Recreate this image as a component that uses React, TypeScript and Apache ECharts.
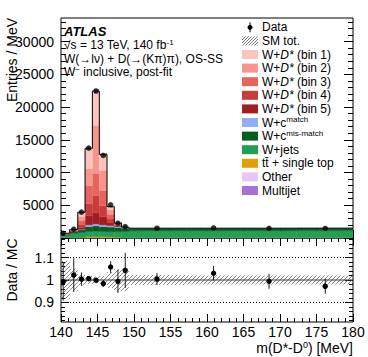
import React, { useEffect, useRef } from "react";
import * as echarts from "echarts";

const FONT = "'Liberation Sans', Arial, Helvetica, sans-serif";

// ---------------- data ----------------
const binEdges = [140, 141.2, 142.3, 143.3, 144.3, 145.25, 146.3, 147.3, 148.3, 149.3, 157, 164.75, 172.3, 180];
const dataX = [140.3, 141.75, 142.8, 143.8, 144.8, 145.8, 146.8, 147.8, 148.8, 153.15, 160.9, 168.5, 176.2];
const dataY = [720, 1340, 3950, 13740, 22450, 12610, 5075, 2260, 1740, 1490, 1530, 1476, 1453];
const ratioY = [0.993, 1.022, 1.004, 1.006, 0.999, 0.984, 1.058, 0.994, 1.043, 1.004, 1.03, 0.994, 0.972];
const ratioErr = [0.085, 0.075, 0.03, 0.01, 0.007, 0.015, 0.026, 0.052, 0.078, 0.026, 0.033, 0.033, 0.033];
const mcRelUnc = [0.085, 0.05, 0.025, 0.018, 0.015, 0.018, 0.035, 0.05, 0.05, 0.022, 0.02, 0.02, 0.02];

const multijet = [10, 15, 15, 30, 30, 30, 25, 25, 20, 20, 20, 20, 20];
const other = [10, 15, 20, 30, 30, 30, 25, 25, 20, 20, 20, 20, 20];
const ttbar = [20, 30, 60, 140, 150, 140, 120, 80, 50, 30, 30, 30, 30];
const wJets = [380, 650, 750, 800, 850, 800, 800, 850, 900, 1050, 1050, 1050, 1060];
const wcMismatch = [150, 250, 400, 730, 800, 730, 700, 620, 500, 350, 350, 350, 350];
const wcMatch = [10, 30, 80, 270, 290, 270, 230, 150, 60, 15, 15, 15, 15];
const wDstar5 = [20, 40, 300, 1380, 1690, 1230, 400, 84, 18, 0, 0, 0, 0];
const wDstar4 = [25, 55, 450, 1850, 2610, 1690, 600, 110, 25, 0, 0, 0, 0];
const wDstar3 = [30, 70, 600, 2770, 3380, 2310, 700, 130, 30, 0, 0, 0, 0];
const wDstar2 = [35, 75, 600, 2600, 7380, 3080, 700, 120, 25, 0, 0, 0, 0];
const wDstar1 = [35, 80, 660, 3100, 5230, 2460, 500, 80, 20, 0, 0, 0, 0];

const mainYLabels = [5000, 10000, 15000, 20000, 25000, 30000];
const ratioYLabels = [0.9, 1, 1.1];

const C = {
  d1: "#fdc4bf",
  d2: "#f9968c",
  d3: "#e4655f",
  d4: "#c93c3c",
  d5: "#a01e22",
  wcMatch: "#93adf2",
  wcMis: "#075c1f",
  wJets: "#1fa055",
  tt: "#e3a003",
  other: "#e9c5f8",
  mj: "#a872d4",
};

// ---------------- helpers ----------------
function hatchLines(x0: number, y0: number, x1: number, y1: number, spacing: number, stroke: string, lw = 0.7) {
  const children: any[] = [];
  const start = Math.ceil((x0 + y0) / spacing) * spacing;
  for (let c = start; c <= x1 + y1; c += spacing) {
    const xs = Math.max(x0, c - y1);
    const xe = Math.min(x1, c - y0);
    if (xe > xs) {
      children.push({
        type: "line",
        shape: { x1: xs, y1: c - xs, x2: xe, y2: c - xe },
        style: { stroke, lineWidth: lw },
      });
    }
  }
  return children;
}

const rectItem = (color: string) => (params: any, api: any) => {
  const a = api.coord([api.value(0), api.value(3)]);
  const b = api.coord([api.value(1), api.value(2)]);
  return {
    type: "rect",
    shape: { x: a[0], y: a[1], width: b[0] - a[0], height: b[1] - a[1] },
    style: { fill: color, stroke: color, lineWidth: 0.4 },
  };
};

const hatchItem = (params: any, api: any) => {
  const a = api.coord([api.value(0), api.value(3)]);
  const b = api.coord([api.value(1), api.value(2)]);
  return { type: "group", children: hatchLines(a[0], a[1], b[0], b[1], 4, "#555", 0.7) };
};

const errItem = (params: any, api: any) => {
  const x = api.value(0);
  const y = api.value(1);
  const e = api.value(2);
  const c = api.coord([x, y]);
  const t = api.coord([x, y + e]);
  const b = api.coord([x, y - e]);
  return {
    type: "group",
    children: [
      { type: "line", shape: { x1: c[0], y1: t[1], x2: c[0], y2: b[1] }, style: { stroke: "#222", lineWidth: 1 } },
      { type: "circle", shape: { cx: c[0], cy: c[1], r: 2.7 }, style: { fill: "#000" } },
    ],
  };
};

const tickStyle = { color: "#000", width: 1 };

function xAxisDef(gridIndex: number, position: string, showLabels: boolean) {
  return {
    type: "value",
    gridIndex,
    position,
    min: 140,
    max: 180,
    interval: 5,
    axisLine: { show: false },
    splitLine: { show: false },
    axisTick: { show: true, inside: true, length: 8, lineStyle: tickStyle },
    minorTick: { show: true, splitNumber: 5, length: 4, lineStyle: tickStyle },
    axisLabel: {
      show: showLabels,
      fontSize: 14,
      color: "#000",
      fontFamily: FONT,
      margin: 3,
      showMinLabel: true,
      showMaxLabel: true,
      formatter: (v: number) => String(v),
    },
  };
}

function yAxisDef(
  gridIndex: number,
  position: string,
  min: number,
  max: number,
  ticks: number[],
  length: number,
  labels: number[] | null,
  fmt: (v: number) => string
) {
  return {
    type: "value",
    gridIndex,
    position,
    min,
    max,
    axisLine: { show: false },
    splitLine: { show: false },
    axisTick: { show: true, inside: true, length, customValues: ticks, lineStyle: tickStyle },
    axisLabel: labels
      ? { show: true, customValues: labels, fontSize: 14, color: "#000", fontFamily: FONT, margin: 7, formatter: fmt }
      : { show: false },
  };
}

function range(a: number, b: number, step: number) {
  const out: number[] = [];
  for (let v = a; v <= b + 1e-9; v += step) out.push(Math.round(v * 1000) / 1000);
  return out;
}

function buildOption() {
  const nBins = binEdges.length - 1;
  const comps = [
    { name: "Multijet", values: multijet, color: C.mj },
    { name: "Other", values: other, color: C.other },
    { name: "tt + single top", values: ttbar, color: C.tt },
    { name: "W+jets", values: wJets, color: C.wJets },
    { name: "W+c mis-match", values: wcMismatch, color: C.wcMis },
    { name: "W+c match", values: wcMatch, color: C.wcMatch },
    { name: "W+D* (bin 5)", values: wDstar5, color: C.d5 },
    { name: "W+D* (bin 4)", values: wDstar4, color: C.d4 },
    { name: "W+D* (bin 3)", values: wDstar3, color: C.d3 },
    { name: "W+D* (bin 2)", values: wDstar2, color: C.d2 },
    { name: "W+D* (bin 1)", values: wDstar1, color: C.d1 },
  ];
  const cum = new Array(nBins).fill(0);
  const stackSeries = comps.map((c) => {
    const data: number[][] = [];
    for (let i = 0; i < nBins; i++) {
      const lo = cum[i];
      const hi = lo + c.values[i];
      cum[i] = hi;
      if (c.values[i] > 0) data.push([binEdges[i], binEdges[i + 1], lo, hi]);
    }
    return {
      type: "custom",
      name: c.name,
      xAxisIndex: 0,
      yAxisIndex: 0,
      renderItem: rectItem(c.color),
      encode: { x: [0, 1], y: [2, 3] },
      data,
      clip: true,
      silent: true,
      z: 2,
    };
  });
  const totals = cum.slice();

  const outline: number[][] = [];
  for (let i = 0; i < nBins; i++) {
    outline.push([binEdges[i], totals[i]], [binEdges[i + 1], totals[i]]);
  }
  const mainBand = totals.map((t, i) => [binEdges[i], binEdges[i + 1], t * (1 - mcRelUnc[i]), t * (1 + mcRelUnc[i])]);
  const ratioBand = mcRelUnc.map((u, i) => [binEdges[i], binEdges[i + 1], 1 - u, 1 + u]);

  const mainMajor = range(0, 30000, 5000);
  const mainMinor = range(1000, 33000, 1000);
  const ratioMajor = [0.9, 1, 1.1];
  const ratioMinor = range(0.82, 1.18, 0.02);
  const rMin = 0.813;
  const rMax = 1.187;
  const yMax = 33600;
  const fmtInt = (v: number) => String(Math.round(v));
  const fmtRatio = (v: number) => (Math.abs(v - 1) < 1e-9 ? "1" : v.toFixed(1));

  const rich = {
    it: { fontStyle: "italic", fontSize: 12, fontFamily: FONT, fill: "#000" },
    sup: { fontSize: 8, lineHeight: 8, fontFamily: FONT, fill: "#000", padding: [0, 0, 6, 0] },
  };

  const legendEntries = [
    { kind: "data", text: "Data" },
    { kind: "hatch", text: "SM tot." },
    { kind: "box", color: C.d1, text: "W+{it|D*} (bin 1)" },
    { kind: "box", color: C.d2, text: "W+{it|D*} (bin 2)" },
    { kind: "box", color: C.d3, text: "W+{it|D*} (bin 3)" },
    { kind: "box", color: C.d4, text: "W+{it|D*} (bin 4)" },
    { kind: "box", color: C.d5, text: "W+{it|D*} (bin 5)" },
    { kind: "box", color: C.wcMatch, text: "W+c{sup|match}" },
    { kind: "box", color: C.wcMis, text: "W+c{sup|mis-match}" },
    { kind: "box", color: C.wJets, text: "W+jets" },
    { kind: "box", color: C.tt, text: "tt\u0304 + single top" },
    { kind: "box", color: C.other, text: "Other" },
    { kind: "box", color: C.mj, text: "Multijet" },
  ];
  const lgTop = 27.3;
  const lgStep = 13.6;
  const lgX = 242;
  const lgW = 16;
  const lgH = 9;
  const legendEls: any[] = [];
  legendEntries.forEach((e: any, i) => {
    const y = lgTop + i * lgStep;
    if (e.kind === "data") {
      legendEls.push({ type: "line", shape: { x1: lgX + lgW / 2, y1: y - 5, x2: lgX + lgW / 2, y2: y + 5 }, style: { stroke: "#000", lineWidth: 1 } });
      legendEls.push({ type: "circle", shape: { cx: lgX + lgW / 2, cy: y, r: 2.5 }, style: { fill: "#000" } });
    } else if (e.kind === "hatch") {
      legendEls.push({ type: "group", children: hatchLines(lgX, y - lgH / 2, lgX + lgW, y + lgH / 2, 3, "#555", 0.8) });
    } else {
      legendEls.push({ type: "rect", shape: { x: lgX, y: y - lgH / 2, width: lgW, height: lgH }, style: { fill: e.color } });
    }
    legendEls.push({
      type: "text",
      x: 262,
      y,
      style: { text: e.text, rich, fontSize: 12, lineHeight: 13, fontFamily: FONT, fill: "#000", verticalAlign: "middle", align: "left" },
    });
  });

  const textEls: any[] = [
    { type: "text", x: 64, y: 31.5, style: { text: "ATLAS", fontSize: 13, fontWeight: "bold", fontStyle: "italic", fontFamily: FONT, fill: "#000", verticalAlign: "middle" } },
    { type: "text", x: 64, y: 45, style: { text: "\u221As = 13 TeV, 140 fb{sup|-1}", rich, fontSize: 12, lineHeight: 13, fontFamily: FONT, fill: "#000", verticalAlign: "middle" } },
    { type: "text", x: 64, y: 58.5, style: { text: "W(\u2192l\u03BD) + D(\u2192(K\u03C0)\u03C0), OS-SS", fontSize: 12, lineHeight: 13, fontFamily: FONT, fill: "#000", verticalAlign: "middle" } },
    { type: "text", x: 64, y: 72, style: { text: "W{sup|\u2212} inclusive, post-fit", rich, fontSize: 12, lineHeight: 13, fontFamily: FONT, fill: "#000", verticalAlign: "middle" } },
    { type: "text", x: 12, y: 60, rotation: Math.PI / 2, style: { text: "Entries / MeV", fontSize: 14, fontFamily: FONT, fill: "#000", align: "center", verticalAlign: "middle" } },
    { type: "text", x: 12, y: 270, rotation: Math.PI / 2, style: { text: "Data / MC", fontSize: 14, fontFamily: FONT, fill: "#000", align: "center", verticalAlign: "middle" } },
    {
      type: "text",
      x: 353,
      y: 348,
      style: {
        text: "m(D*-D{s|0}) [MeV]",
        rich: { s: { fontSize: 9, lineHeight: 9, fontFamily: FONT, fill: "#000", padding: [0, 0, 6, 0] } },
        fontSize: 14,
        lineHeight: 15,
        fontFamily: FONT,
        fill: "#000",
        align: "right",
        verticalAlign: "middle",
      },
    },
  ];

  return {
    animation: false,
    backgroundColor: "#fff",
    grid: [
      { left: 61, top: 18, width: 292, height: 220, show: true, borderColor: "#000", borderWidth: 1, backgroundColor: "transparent", containLabel: false, outerBoundsMode: "none" },
      { left: 61, top: 238, width: 292, height: 84, show: true, borderColor: "#000", borderWidth: 1, backgroundColor: "transparent", containLabel: false, outerBoundsMode: "none" },
    ],
    xAxis: [xAxisDef(0, "bottom", false), xAxisDef(0, "top", false), xAxisDef(1, "bottom", true), xAxisDef(1, "top", false)],
    yAxis: [
      yAxisDef(0, "left", 0, yMax, mainMajor, 9, mainYLabels, fmtInt),
      yAxisDef(0, "left", 0, yMax, mainMinor, 5, null, fmtInt),
      yAxisDef(0, "right", 0, yMax, mainMajor, 9, null, fmtInt),
      yAxisDef(0, "right", 0, yMax, mainMinor, 5, null, fmtInt),
      yAxisDef(1, "left", rMin, rMax, ratioMajor, 8, ratioYLabels, fmtRatio),
      yAxisDef(1, "left", rMin, rMax, ratioMinor, 4, null, fmtRatio),
      yAxisDef(1, "right", rMin, rMax, ratioMajor, 8, null, fmtRatio),
      yAxisDef(1, "right", rMin, rMax, ratioMinor, 4, null, fmtRatio),
    ],
    series: [
      ...stackSeries,
      {
        type: "line",
        name: "outline",
        xAxisIndex: 0,
        yAxisIndex: 0,
        data: outline,
        symbol: "none",
        lineStyle: { color: "#000", width: 1 },
        silent: true,
        z: 3,
      },
      {
        type: "custom",
        name: "SM tot.",
        xAxisIndex: 0,
        yAxisIndex: 0,
        renderItem: hatchItem,
        encode: { x: [0, 1], y: [2, 3] },
        data: mainBand,
        clip: true,
        silent: true,
        z: 4,
      },
      {
        type: "scatter",
        name: "Data",
        xAxisIndex: 0,
        yAxisIndex: 0,
        data: dataX.map((x, i) => [x, dataY[i]]),
        symbol: "circle",
        symbolSize: 5.5,
        itemStyle: { color: "#000" },
        silent: true,
        z: 5,
      },
      {
        type: "line",
        name: "ratio1",
        xAxisIndex: 2,
        yAxisIndex: 4,
        data: [[140, 1], [180, 1]],
        symbol: "none",
        lineStyle: { color: "#333", width: 1 },
        silent: true,
        z: 3,
      },
      {
        type: "line",
        name: "ratioHi",
        xAxisIndex: 2,
        yAxisIndex: 4,
        data: [[140, 1.1], [180, 1.1]],
        symbol: "none",
        lineStyle: { color: "#000", width: 1, type: [1, 2] },
        silent: true,
        z: 3,
      },
      {
        type: "line",
        name: "ratioLo",
        xAxisIndex: 2,
        yAxisIndex: 4,
        data: [[140, 0.9], [180, 0.9]],
        symbol: "none",
        lineStyle: { color: "#000", width: 1, type: [1, 2] },
        silent: true,
        z: 3,
      },
      {
        type: "custom",
        name: "ratioBand",
        xAxisIndex: 2,
        yAxisIndex: 4,
        renderItem: hatchItem,
        encode: { x: [0, 1], y: [2, 3] },
        data: ratioBand,
        clip: true,
        silent: true,
        z: 4,
      },
      {
        type: "custom",
        name: "ratioData",
        xAxisIndex: 2,
        yAxisIndex: 4,
        renderItem: errItem,
        encode: { x: 0, y: 1 },
        data: dataX.map((x, i) => [x, ratioY[i], ratioErr[i]]),
        clip: true,
        silent: true,
        z: 5,
      },
    ],
    graphic: [...textEls, ...legendEls],
  };
}

export default function App() {
  const ref = useRef<HTMLDivElement>(null);
  useEffect(() => {
    document.body.style.margin = "0";
    const chart = echarts.init(ref.current as HTMLDivElement, null, { renderer: "svg" });
    chart.setOption(buildOption() as any);
    return () => {
      chart.dispose();
    };
  }, []);
  return <div ref={ref} style={{ width: 368, height: 357 }} />;
}
